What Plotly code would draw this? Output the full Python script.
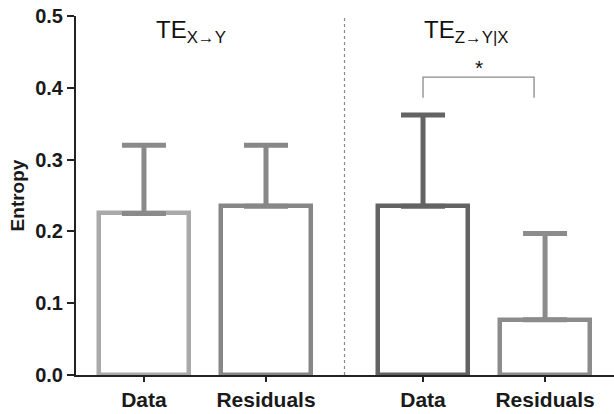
import plotly.graph_objects as go

# Transfer-entropy estimates (mean) and upper error (SD) per condition
categories = ["Data", "Residuals", "Data", "Residuals"]
means = [0.225, 0.235, 0.235, 0.077]
upper_err = [0.095, 0.085, 0.127, 0.120]
group_titles = ["TE<sub>X\u2192Y</sub>", "TE<sub>Z\u2192Y|X</sub>"]
y_ticks = [0.0, 0.1, 0.2, 0.3, 0.4, 0.5]

# Layout: two pairs of bars with a wider gap between the pairs
x_pos = [0, 1, 2.287, 3.287]
bar_colors = ["#a9a9a9", "#878787", "#636363", "#8c8c8c"]
err_colors = ["#8a8a8a", "#878787", "#636363", "#8c8c8c"]
FONT = "Arial, Liberation Sans, sans-serif"

fig = go.Figure()
for i in range(len(means)):
    fig.add_trace(go.Bar(
        x=[x_pos[i]], y=[means[i]], width=0.74,
        marker=dict(color="white", line=dict(color=bar_colors[i], width=4.5)),
        error_y=dict(type="data", symmetric=False, array=[upper_err[i]], arrayminus=[0],
                     color=err_colors[i], thickness=5, width=22),
        showlegend=False, hoverinfo="skip",
    ))

# dotted separator between the two groups
sep_x = (x_pos[1] + x_pos[2]) / 2
fig.add_shape(type="line", x0=sep_x, x1=sep_x, y0=0, y1=0.5, xref="x", yref="y",
              line=dict(color="#888888", width=1.2, dash="dot"))

# group headings
for gx, txt in zip([0.385, 2.64], group_titles):
    fig.add_annotation(x=gx, y=0.479, xref="x", yref="y", text=txt, showarrow=False,
                       font=dict(family=FONT, size=24, color="#111111"))

# significance bracket
bx0, bx1 = x_pos[2], x_pos[2] + 0.91
fig.add_shape(type="path", xref="x", yref="y",
              path=f"M {bx0},0.386 L {bx0},0.415 L {bx1},0.415 L {bx1},0.386",
              line=dict(color="#8a8a8a", width=1.3))
fig.add_annotation(x=(bx0 + bx1) / 2, y=0.428, xref="x", yref="y", text="*", showarrow=False,
                   font=dict(family=FONT, size=21, color="#111111"))

fig.update_layout(
    width=614, height=414,
    margin=dict(l=76, r=0, t=16, b=39),
    paper_bgcolor="white", plot_bgcolor="white",
    bargap=0,
)
fig.update_xaxes(
    range=[-0.557, 3.852], tickvals=x_pos, ticktext=categories,
    showline=True, linecolor="#222222", linewidth=2,
    ticks="outside", ticklen=5, tickwidth=2, tickcolor="#222222",
    showgrid=False, zeroline=False,
    tickfont=dict(family=FONT, size=21, color="#1a1a1a", weight="bold"),
)
fig.update_yaxes(
    range=[0, 0.5], tickvals=y_ticks, tickformat=".1f",
    showline=True, linecolor="#222222", linewidth=2,
    ticks="outside", ticklen=7, tickwidth=2, tickcolor="#222222",
    showgrid=False, zeroline=False,
    tickfont=dict(family=FONT, size=20, color="#1a1a1a", weight="bold"),
    title=dict(text="Entropy", font=dict(family=FONT, size=19, color="#1a1a1a", weight="bold"),
               standoff=6),
)

fig.write_html("out.html")
